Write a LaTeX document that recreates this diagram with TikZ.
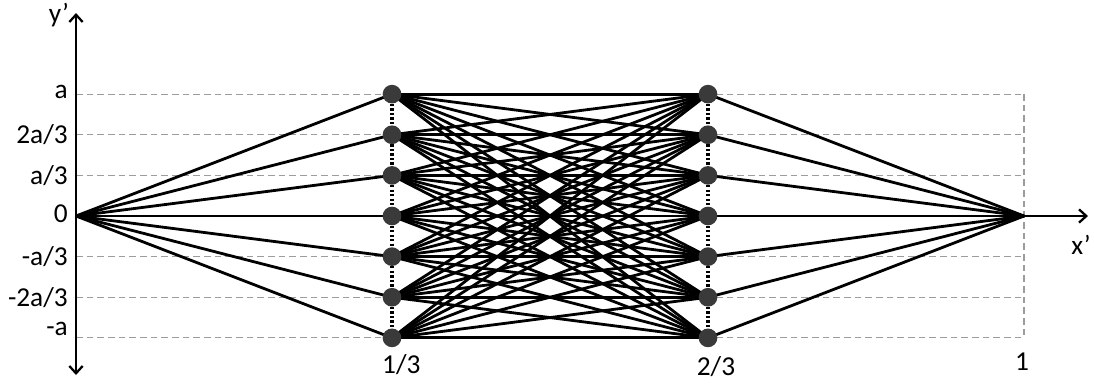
\documentclass[tikz,border=0pt]{standalone}
\usepackage{fontspec}
\setmainfont{Carlito}
\usetikzlibrary{arrows.meta,calc}
\definecolor{gridGray}{HTML}{9C9C9C}
\definecolor{nodeFill}{HTML}{3A3A3A}
\pgfdeclarelayer{gridlayer}
\pgfdeclarelayer{edgelayer}
\pgfsetlayers{gridlayer,edgelayer,main}
\tikzset{
  vtx/.style={circle, fill=nodeFill, inner sep=0pt, minimum size=14pt},
  edge/.style={black, line width=2.1pt},
  gridline/.style={gridGray, line width=0.9pt, dash pattern=on 5pt off 3pt},
  dotline/.style={black, line width=2.5pt, dash pattern=on 1.7pt off 1.7pt},
  axis/.style={black, line width=1.7pt},
  barb/.tip={Straight Barb[length=5.5pt, width=10pt]},
  tick/.style={font=\fontsize{20.5}{24}\selectfont, inner sep=1pt},
}

\begin{document}
\begin{tikzpicture}[x=711pt, y=91.4pt]
  \useasboundingbox (-57pt,-125.25pt) rectangle (763.5pt,162pt);

  % axes
  \coordinate (o) at (0,0);
  \coordinate (one) at (1,0);
  \coordinate (ytop) at (0,152.25pt);
  \coordinate (ybot) at (0,-119.25pt);
  \coordinate (xend) at (759pt,0);
  \draw[axis, barb-barb] (ybot) -- (ytop);
  \draw[axis, -barb] (one) -- (xend);
  \node[tick] (ylab) at (-12.75pt,150.75pt) {y’};
  \node[tick] (xlab) at (753.75pt,-21.75pt) {x’};

  % levels and vertices
  \foreach \i in {1,...,7} {
    \node[vtx] (p\i) at (1/3,{(4-\i)/3}) {};
    \node[vtx] (q\i) at (2/3,{(4-\i)/3}) {};
    \begin{pgfonlayer}{gridlayer}
      \draw[gridline] (0,{(4-\i)/3}) -- (1,{(4-\i)/3});
    \end{pgfonlayer}
  }
  \begin{pgfonlayer}{gridlayer}
    \draw[gridline] (1,1) -- (1,-1);
  \end{pgfonlayer}

  % level labels
  \node[tick, anchor=east] (la)   at (-5pt,93pt)    {a};
  \node[tick, anchor=east] (l2a)  at (-5pt,{2/3})   {2a/3};
  \node[tick, anchor=east] (l1a)  at (-5pt,{1/3})   {a/3};
  \node[tick, anchor=east] (l0)   at (-5pt,2pt)     {0};
  \node[tick, anchor=east] (lm1a) at (-5pt,{-1/3})  {-a/3};
  \node[tick, anchor=east] (lm2a) at (-5pt,{-2/3})  {-2a/3};
  \node[tick, anchor=east] (lma)  at (-5pt,-84.4pt) {-a};

  % ticks on x'
  \node[tick] (t13) at ([xshift=7pt,yshift=-20pt]p7.center) {1/3};
  \node[tick] (t23) at ([xshift=6pt,yshift=-21.5pt]q7.center) {2/3};
  \node[tick] (t1)  at ([xshift=-1.5pt,yshift=-109.5pt]one) {1};

  % connectors
  \begin{pgfonlayer}{edgelayer}
    \foreach \i in {1,...,7} {
      \draw[edge] (o) -- (p\i.center);
      \draw[edge] (q\i.center) -- (one);
      \foreach \j in {1,...,7}
        \draw[edge] (p\i.center) -- (q\j.center);
    }
    \foreach \i [evaluate=\i as \k using int(\i+1)] in {1,...,6} {
      \draw[dotline] (p\i) -- (p\k);
      \draw[dotline] (q\i) -- (q\k);
    }
  \end{pgfonlayer}
\end{tikzpicture}
\end{document}
